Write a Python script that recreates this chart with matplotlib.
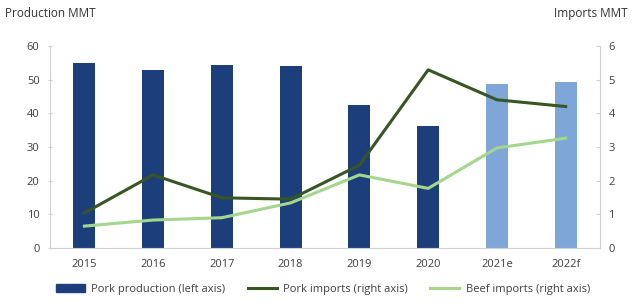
import matplotlib.pyplot as plt
import numpy as np

years = ['2015', '2016', '2017', '2018', '2019', '2020', '2021e', '2022f']
pork_production = [54.8, 52.9, 54.4, 53.9, 42.4, 36.3, 48.8, 49.4]
pork_imports = [1.04, 2.17, 1.49, 1.45, 2.46, 5.29, 4.40, 4.20]
beef_imports = [0.65, 0.83, 0.90, 1.34, 2.17, 1.77, 2.97, 3.26]

plt.rcParams['font.family'] = ['Open Sans', 'DejaVu Sans']
text_col = '#404040'
axis_col = '#d0d0d0'

fig = plt.figure(figsize=(6.33, 3.03), dpi=100)
ax = fig.add_axes([0.079, 0.1815, 0.869, 0.667])
x = np.arange(len(years))

bar_cols = ['#1c3f7c'] * 6 + ['#7fa6d9'] * 2
ax.bar(x, pork_production, width=0.32, color=bar_cols, zorder=2)
ax.set_xlim(-0.5, len(years) - 0.5)
ax.set_ylim(0, 60)
ax.set_yticks(range(0, 61, 10))
ax.set_xticks(x)
ax.set_xticklabels(years)

ax2 = ax.twinx()
ax2.plot(x, pork_imports, color='#375623', lw=2.2, zorder=3)
ax2.plot(x, beef_imports, color='#a4d68c', lw=2.2, zorder=3)
ax2.set_ylim(0, 6)
ax2.set_yticks(range(0, 7))

for a in (ax, ax2):
    for s in a.spines.values():
        s.set_visible(False)
    a.tick_params(colors=text_col, labelsize=8, length=3, width=0.8)
    a.tick_params(axis='y', color=axis_col)
ax.spines['left'].set_visible(True)
ax.spines['left'].set_color(axis_col)
ax.spines['bottom'].set_visible(True)
ax.spines['bottom'].set_color(axis_col)
ax2.spines['right'].set_visible(True)
ax2.spines['right'].set_color(axis_col)
ax.tick_params(axis='x', length=0, pad=8)
ax.tick_params(axis='y', direction='inout', pad=6)
ax2.tick_params(axis='y', direction='in', pad=6)

fig.text(0.008, 0.955, 'Production MMT', fontsize=8.5, color='#333333', ha='left', va='center')
fig.text(0.992, 0.955, 'Imports MMT', fontsize=8.5, color='#333333', ha='right', va='center')

handles = [plt.Rectangle((0, 0), 1, 1, color='#1c3f7c'),
           plt.Line2D([], [], color='#375623', lw=2.2),
           plt.Line2D([], [], color='#a4d68c', lw=2.2)]
labels = ['Pork production (left axis)', 'Pork imports (right axis)', 'Beef imports (right axis)']
fig.legend(handles, labels, loc='center', bbox_to_anchor=(0.51, 0.045), ncol=3, frameon=False,
           fontsize=8, labelcolor=text_col, handlelength=2.6, columnspacing=2.0, handletextpad=0.6)

fig.savefig('out.png', dpi=100)
